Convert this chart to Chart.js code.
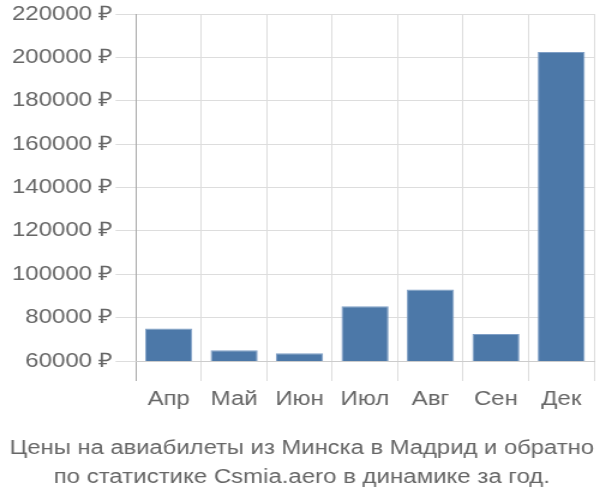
<!DOCTYPE html>
<html>
<head>
<meta charset="utf-8">
<script src="https://cdn.jsdelivr.net/npm/chart.js@4"></script>
<style>
  html, body { margin: 0; padding: 0; background: #fff; }
  #wrap { width: 600px; height: 500px; }
</style>
</head>
<body>
<div id="wrap">
  <!-- the reference is drawn 500 wide and stretched to 600 -->
  <canvas id="chart" width="500" height="500" style="width:600px;height:500px;display:block"></canvas>
</div>
<script>
// months and average prices (RUB)
const months = ["Апр", "Май", "Июн", "Июл", "Авг", "Сен", "Дек"];
const prices = [75000, 65000, 63600, 85200, 93000, 72500, 202500];
const yTicks = [60000, 80000, 100000, 120000, 140000, 160000, 180000, 200000, 220000];
const titleLines = [
  "Цены на авиабилеты из Минска в Мадрид и обратно",
  "по статистике Csmia.aero в динамике за год."
];

Chart.defaults.font.family = "'Liberation Sans', Arial, sans-serif";
Chart.defaults.color = "#666";

const canvas = document.getElementById("chart");
new Chart(canvas, {
  type: "bar",
  data: {
    labels: months,
    datasets: [{
      data: prices,
      backgroundColor: "#4c78a8",
      borderColor: "#7f9fc6",
      borderWidth: 1,
      barPercentage: 0.72,
      categoryPercentage: 1
    }]
  },
  options: {
    responsive: false,
    animation: false,
    devicePixelRatio: 1,
    layout: { padding: { top: 4, right: 5, left: 8 } },
    plugins: {
      legend: { display: false },
      tooltip: { enabled: false },
      title: {
        display: true,
        position: "bottom",
        text: titleLines,
        color: "#666",
        font: { size: 20, weight: "normal", lineHeight: 1.45 },
        padding: { top: 17, bottom: 8 }
      }
    },
    scales: {
      y: {
        min: yTicks[0],
        max: yTicks[yTicks.length - 1],
        afterBuildTicks: axis => { axis.ticks = yTicks.map(v => ({ value: v })); },
        grid: { color: "#ddd", tickLength: 17, lineWidth: 1 },
        border: { color: "#aaa" },
        ticks: {
          padding: 2,
          font: { size: 20 },
          callback: v => v + " ₽"
        }
      },
      x: {
        grid: {
          color: c => c.index === 0 ? "#aaa" : "#ddd",
          tickLength: 20,
          offset: true
        },
        border: { color: "#ccc" },
        ticks: { padding: 6, font: { size: 20 } }
      }
    }
  }
});
canvas.style.width = "600px";
canvas.style.height = "500px";
</script>
</body>
</html>
